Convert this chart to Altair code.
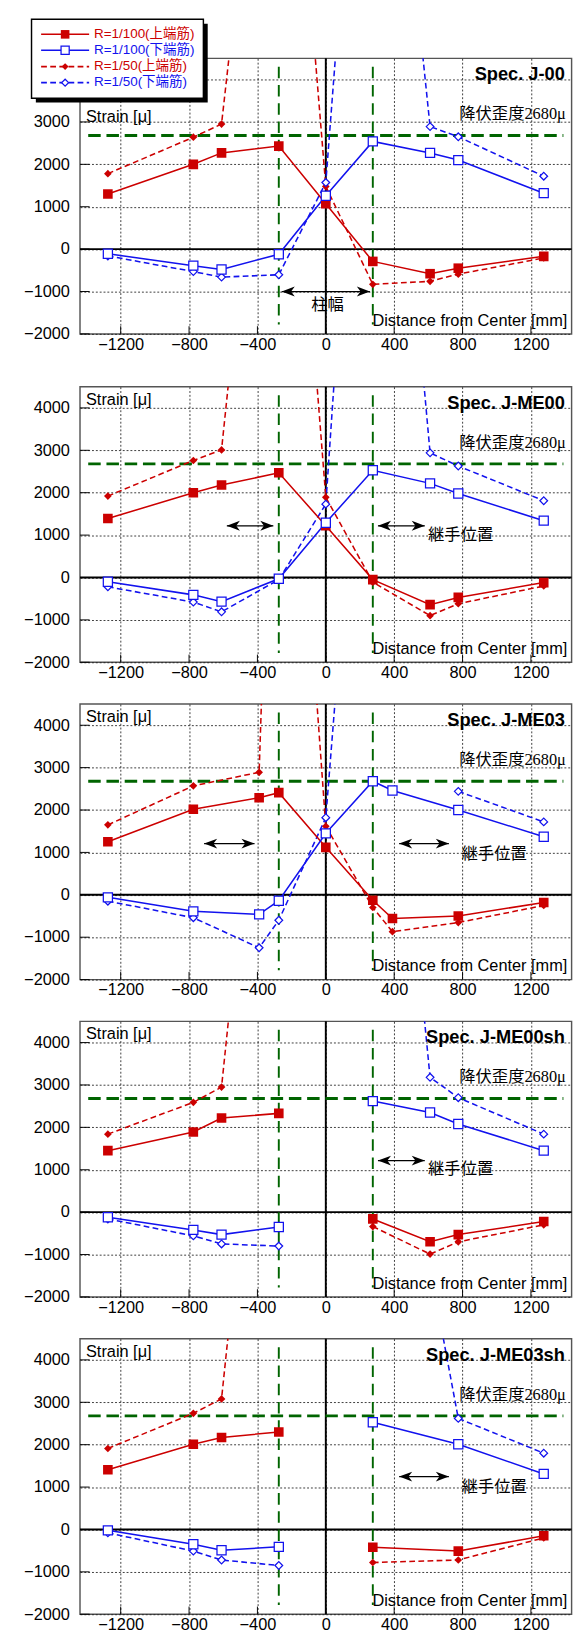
import altair as alt
import pandas as pd

# ---------------- data ----------------
SERIES = ["R=1/100(上端筋)", "R=1/100(下端筋)", "R=1/50(上端筋)", "R=1/50(下端筋)"]
SPECS = ["Spec. J-00", "Spec. J-ME00", "Spec. J-ME03", "Spec. J-ME00sh", "Spec. J-ME03sh"]

X_A = [-1275, -775, -610, -275, 0, 275, 610, 775, 1275]
X_B = [-1275, -775, -390, -275, 0, 275, 390, 775, 1275]
X_C = [-1275, -775, -610, -275, 0, 275, 775, 1275]

J00_T100 = [1300, 2000, 2270, 2430, 1070, -290, -580, -450, -170]
J00_B100 = [-110, -390, -480, -120, 1260, 2540, 2270, 2100, 1320]
J00_T50 = [1780, 2640, 2950, 15000, 1480, -830, -760, -590, -210]
J00_B50 = [-160, -530, -660, -605, 1570, 16000, 2890, 2650, 1720]

ME00_T100 = [1390, 2000, 2180, 2470, 1220, -50, -640, -470, -120]
ME00_B100 = [-100, -410, -570, -30, 1290, 2530, 2220, 1980, 1340]
ME00_T50 = [1920, 2760, 3010, 16000, 1890, -110, -900, -620, -200]
ME00_B50 = [-220, -580, -810, -50, 1730, 18000, 2940, 2630, 1810]

ME03_T100 = [1250, 2020, 2290, 2410, 1120, -130, -560, -500, -180]
ME03_B100 = [-60, -390, -460, -140, 1450, 2680, 2460, 2000, 1370]
ME03_T50 = [1650, 2570, 2890, 17000, 1615, -300, -870, -655, -250]
ME03_B50 = [-150, -540, -1250, -600, 1820, 15700, None, 2440, 1720]

ME00SH_T100 = [1450, 1890, 2220, 2330, None, -160, -700, -530, -220]
ME00SH_B100 = [-120, -420, -530, -350, None, 2620, 2350, 2080, 1450]
ME00SH_T50 = [1840, 2590, 2950, 16000, None, -340, -990, -700, -300]
ME00SH_B50 = [-160, -560, -750, -800, None, 17000, 3180, 2700, 1840]

ME03SH_T100 = [1410, 2010, 2170, 2300, None, -420, -510, -150]
ME03SH_B100 = [-20, -350, -490, -410, None, 2530, 2010, 1310]
ME03SH_T50 = [1910, 2740, 3080, 16000, None, -780, -720, -200]
ME03SH_B50 = [-80, -510, -720, -850, None, 13400, 2620, 1800]

PANEL_X = [X_A, X_A, X_B, X_A, X_C]
PANEL_Y = [
    [J00_T100, J00_B100, J00_T50, J00_B50],
    [ME00_T100, ME00_B100, ME00_T50, ME00_B50],
    [ME03_T100, ME03_B100, ME03_T50, ME03_B50],
    [ME00SH_T100, ME00SH_B100, ME00SH_T50, ME00SH_B50],
    [ME03SH_T100, ME03SH_B100, ME03SH_T50, ME03SH_B50],
]

X_TICKS = [-1200, -800, -400, 0, 400, 800, 1200]
Y_TICKS = [-2000, -1000, 0, 1000, 2000, 3000, 4000]
YIELD = 2680
COLUMN_FACE = [-275, 275]

# annotations: (x_from, x_to, y) double arrows, and label (text, x, y)
ARROWS = [
    [(-258, 258, -1000)],
    [(-579, -307, 1220), (305, 579, 1220)],
    [(-712, -417, 1209), (429, 720, 1209)],
    [(305, 579, 1216)],
    [(429, 720, 1248)],
]
ARROW_TEXT = [
    ("柱幅", 10, -1440, "center"),
    ("継手位置", 598, 888, "left"),
    ("継手位置", 794, 842, "left"),
    ("継手位置", 598, 888, "left"),
    ("継手位置", 794, 872, "left"),
]

# ---------------- style ----------------
RED = "#cc0000"
BLUE = "#1212ee"
GREEN = "#006400"
SANS = "Liberation Sans, Noto Sans CJK JP"
SERIF = "Liberation Serif, Noto Sans CJK JP"
W, H = 512, 287

XS = alt.Scale(domain=[-1438, 1438], nice=False, zero=False)
YS = alt.Scale(domain=[-2000, 4500], nice=False, zero=False)
XAX = alt.Axis(values=X_TICKS, title=None, labelFlush=False, labelPadding=3, format="d")
YAX = alt.Axis(values=Y_TICKS, title=None, labelFlush=False, labelPadding=11, format="d")

STYLE = {
    SERIES[0]: dict(color=RED, dash=None, shape="square", filled=True, size=100),
    SERIES[1]: dict(color=BLUE, dash=None, shape="square", filled=False, size=90),
    SERIES[2]: dict(color=RED, dash=[6, 3.5], shape="diamond", filled=True, size=64),
    SERIES[3]: dict(color=BLUE, dash=[6, 3.5], shape="diamond", filled=False, size=64),
}
DRAW_ORDER = [2, 3, 0, 1]

ONE = pd.DataFrame({"k": [0]})
RIGHT_HEAD = "M0,0 L-1.6,-0.6 L-1.15,0 L-1.6,0.6 Z"
LEFT_HEAD = "M0,0 L1.6,-0.6 L1.15,0 L1.6,0.6 Z"


def fx(f):
    return alt.X(f, scale=XS, axis=XAX)


def fy(f):
    return alt.Y(f, scale=YS, axis=YAX)


def dx(v):
    return alt.XDatum(v, scale=XS, axis=XAX)


def dy(v):
    return alt.YDatum(v, scale=YS, axis=YAX)


def series_df(xs, ys):
    rows, seg = [], 0
    for x, y in zip(xs, ys):
        if y is None:
            seg += 1
            continue
        rows.append({"x": x, "y": y, "seg": seg})
    return pd.DataFrame(rows)


def line_layer(df, st):
    kw = dict(color=st["color"], strokeWidth=1.6, clip=True)
    if st["dash"]:
        kw["strokeDash"] = st["dash"]
    return alt.Chart(df).mark_line(**kw).encode(x=fx("x:Q"), y=fy("y:Q"), detail="seg:N")


def point_layer(df, st):
    if st["filled"]:
        m = alt.Chart(df).mark_point(shape=st["shape"], filled=True, color=st["color"],
                                     size=st["size"], opacity=1, clip=True)
    else:
        m = alt.Chart(df).mark_point(shape=st["shape"], filled=False, fill="white",
                                     stroke=st["color"], strokeWidth=1.3, size=st["size"],
                                     opacity=1, clip=True)
    return m.encode(x=fx("x:Q"), y=fy("y:Q"))


def text_px(txt, x, y, size=17, align="left", weight="normal", font=SANS, color="black",
            baseline="alphabetic"):
    return alt.Chart(ONE).mark_text(text=txt, align=align, baseline=baseline, fontSize=size,
                                    fontWeight=weight, font=font, color=color).encode(
        x=alt.value(x), y=alt.value(y))


def legend_layers():
    layers = [
        alt.Chart(ONE).mark_rect(color="black").encode(
            x=alt.value(-46), x2=alt.value(133), y=alt.value(-36), y2=alt.value(46)),
        alt.Chart(ONE).mark_rect(fill="white", stroke="black", strokeWidth=1.5).encode(
            x=alt.value(-50.5), x2=alt.value(128.5), y=alt.value(-40.7), y2=alt.value(41.6)),
    ]
    rows_y = [-25, -8.4, 8.6, 25.3]
    for name, ry in zip(SERIES, rows_y):
        st = STYLE[name]
        kw = dict(color=st["color"], strokeWidth=1.6)
        if st["dash"]:
            kw["strokeDash"] = st["dash"]
        layers.append(alt.Chart(ONE).mark_rule(**kw).encode(
            x=alt.value(-40.5), x2=alt.value(9.5), y=alt.value(ry)))
        if st["filled"]:
            pm = alt.Chart(ONE).mark_point(shape=st["shape"], filled=True, color=st["color"],
                                           size=st["size"] * 0.8, opacity=1)
        else:
            pm = alt.Chart(ONE).mark_point(shape=st["shape"], filled=False, fill="white",
                                           stroke=st["color"], strokeWidth=1.3,
                                           size=st["size"] * 0.8, opacity=1)
        layers.append(pm.encode(x=alt.value(-15.5), y=alt.value(ry)))
        layers.append(text_px(name, 14.5, ry, size=14, color=st["color"], baseline="middle"))
    return layers


def panel(i):
    xs = PANEL_X[i]
    layers = []
    # inward ticks
    layers.append(alt.Chart(pd.DataFrame({"v": Y_TICKS})).mark_rule(color="black", strokeWidth=1).encode(
        y=fy("v:Q"), x=alt.value(0), x2=alt.value(10)))
    layers.append(alt.Chart(pd.DataFrame({"v": X_TICKS})).mark_rule(color="black", strokeWidth=1).encode(
        x=fx("v:Q"), y=alt.value(H), y2=alt.value(H - 8)))
    # zero lines
    layers.append(alt.Chart(ONE).mark_rule(color="black", strokeWidth=2).encode(y=dy(0)))
    layers.append(alt.Chart(ONE).mark_rule(color="black", strokeWidth=2).encode(x=dx(0)))
    # yield strain line and column faces
    layers.append(alt.Chart(ONE).mark_rule(color=GREEN, strokeWidth=3, strokeDash=[13, 6]).encode(
        x=dx(-1390), x2=alt.datum(1390), y=dy(YIELD)))
    layers.append(alt.Chart(pd.DataFrame({"c": COLUMN_FACE})).mark_rule(
        color=GREEN, strokeWidth=2, strokeDash=[12, 7]).encode(
        x=fx("c:Q"), y=dy(4300), y2=alt.datum(-1780)))
    # data
    for k in DRAW_ORDER:
        df = series_df(xs, PANEL_Y[i][k])
        layers.append(line_layer(df, STYLE[SERIES[k]]))
    for k in DRAW_ORDER:
        df = series_df(xs, PANEL_Y[i][k])
        layers.append(point_layer(df, STYLE[SERIES[k]]))
    # texts
    layers.append(text_px(SPECS[i], 505, 23, size=19, align="right", weight="bold"))
    layers.append(alt.Chart(ONE).mark_text(text="降伏歪度2680μ", align="right", baseline="alphabetic",
                                           fontSize=17, font=SERIF, color="black").encode(
        x=alt.value(506), y=dy(3060)))
    layers.append(text_px("Strain [μ]", 6.2, 66 if i == 0 else 18.6))
    layers.append(text_px("Distance from Center [mm]", 507.5, H - 8.5, align="right"))
    # arrows
    adf = pd.DataFrame([{"x1": a, "x2": b, "y": y} for a, b, y in ARROWS[i]])
    layers.append(alt.Chart(adf).mark_rule(color="black", strokeWidth=1.3).encode(
        x=fx("x1:Q"), x2="x2:Q", y=fy("y:Q")))
    layers.append(alt.Chart(adf).mark_point(shape=LEFT_HEAD, filled=True, color="black",
                                            size=289, opacity=1).encode(x=fx("x1:Q"), y=fy("y:Q")))
    layers.append(alt.Chart(adf).mark_point(shape=RIGHT_HEAD, filled=True, color="black",
                                            size=289, opacity=1).encode(x=fx("x2:Q"), y=fy("y:Q")))
    t, tx, ty, al = ARROW_TEXT[i]
    layers.append(alt.Chart(ONE).mark_text(text=t, align=al, baseline="alphabetic", fontSize=17,
                                           font=SANS, color="black").encode(x=dx(tx), y=dy(ty)))
    if i == 0:
        layers.extend(legend_layers())
    return alt.layer(*layers).properties(width=W, height=H)


inner = alt.vconcat(*[panel(i) for i in range(1, 5)], spacing=21.5)
chart = alt.vconcat(panel(0), inner, spacing=33).properties(
    padding={"left": 15, "top": -25, "right": 0.5, "bottom": 0}
).configure_view(
    stroke="#555", strokeWidth=1.5
).configure_axis(
    labelFont="Liberation Sans", labelFontSize=17, labelColor="black",
    domain=False, ticks=False, grid=True, gridColor="#222", gridDash=[2, 2], gridWidth=0.9,
)

chart.save("out.html", embed_options={"renderer": "svg", "actions": False})
